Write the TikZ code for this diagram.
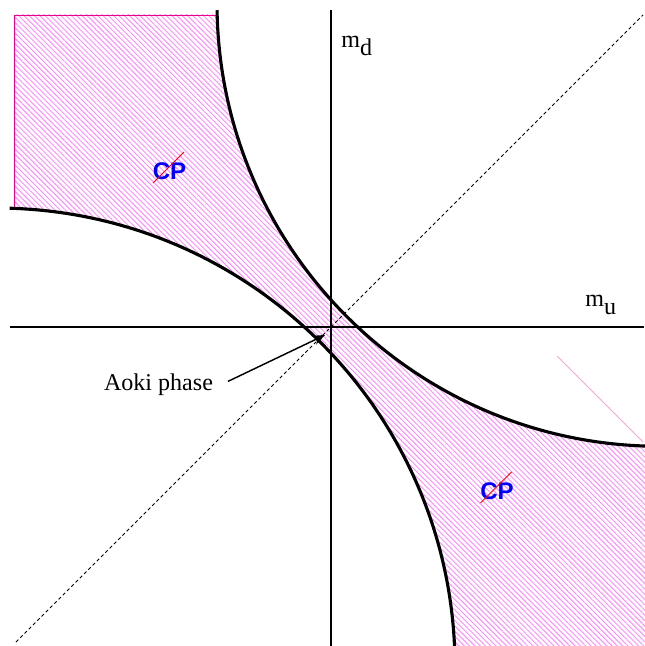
\documentclass[tikz,border=0pt]{standalone}
\usepackage{fontspec}
\setmainfont{Liberation Serif}
\newfontfamily\cpfont{Liberation Sans}
\usetikzlibrary{arrows.meta}
\usetikzlibrary{patterns.meta}
\usepackage{xcolor}

\begin{document}
\begin{tikzpicture}[x=1.46cm, y=1.46cm,
        axis/.style={line width=1pt},
        phaseline/.style={line width=1.3pt},
        hatch/.style={pattern={Lines[angle=-45, distance=1.55pt, line width=0.4pt]}, pattern color=magenta!45},
        cptext/.style={font=\cpfont\bfseries, text=blue, inner sep=0pt},
        cpslash/.style={red, line width=0.4pt},
        masslabel/.style={anchor=base west, inner sep=0pt}]

        \useasboundingbox (-3.31,-3.19) rectangle (3.13,3.27);

        % 円弧の中心と半径
        \def\rA{4.43}
        \def\rB{4.59}
        \coordinate (ca) at (3.29,3.237);
        \coordinate (cb) at (-3.35,-3.40);

        % ハッチ領域（二つの円の外側）
        \begin{scope}
            \clip (-3.17,-3.5) rectangle (3.5,3.12);
            \fill[hatch, even odd rule] (-3.6,-3.6) rectangle (3.6,3.6)
                (ca) circle[radius=\rA]
                (cb) circle[radius=\rB];
        \end{scope}
        \draw[magenta, line width=0.4pt] (-3.17,1.187) -- (-3.17,3.12) -- (-1.139,3.12);
        \draw[magenta!35, line width=0.4pt] (2.26,-0.29) -- (3.12,-1.15);

        % 対角線（点線）
        \draw[dash pattern=on 1.4pt off 1.1pt, line width=0.35pt] (-3.15,-3.15) -- (3.12,3.12);

        % 軸の描画
        \draw[axis] (-3.21,0) -- (3.13,0); % 横軸
        \draw[axis] (0,-3.19) -- (0,3.17); % 縦軸

        % 相境界（円弧）
        \draw[phaseline] (ca) ++(180.9:\rA) arc[start angle=180.9, end angle=270, radius=\rA];
        \draw[phaseline] (cb) ++(0:\rB) arc[start angle=0, end angle=88.3, radius=\rB];

        % 軸ラベル
        \node[masslabel] (md) at (0.10,2.79) {m\raisebox{-3pt}{d}};
        \node[masslabel] (mu) at (2.54,0.20) {m\raisebox{-3pt}{u}};

        % CP ラベル
        \foreach \cx/\cy [count=\k] in {-1.615/1.555, 1.66/-1.645} {
            \node[cptext] (cp\k) at (\cx,\cy) {CP};
            \draw[cpslash] ([shift={(-0.165,-0.115)}]cp\k.center) -- ([shift={(0.145,0.195)}]cp\k.center);
        }

        % Aoki 相の矢印
        \node (aoki) at (-1.725,-0.575) {Aoki phase};
        \coordinate (aokitip) at (-0.06,-0.08);
        \draw[line width=0.6pt, -{Stealth[length=5pt, width=4pt]}, shorten <=3pt] (aoki.east) -- (aokitip);
    \end{tikzpicture}
\end{document}
